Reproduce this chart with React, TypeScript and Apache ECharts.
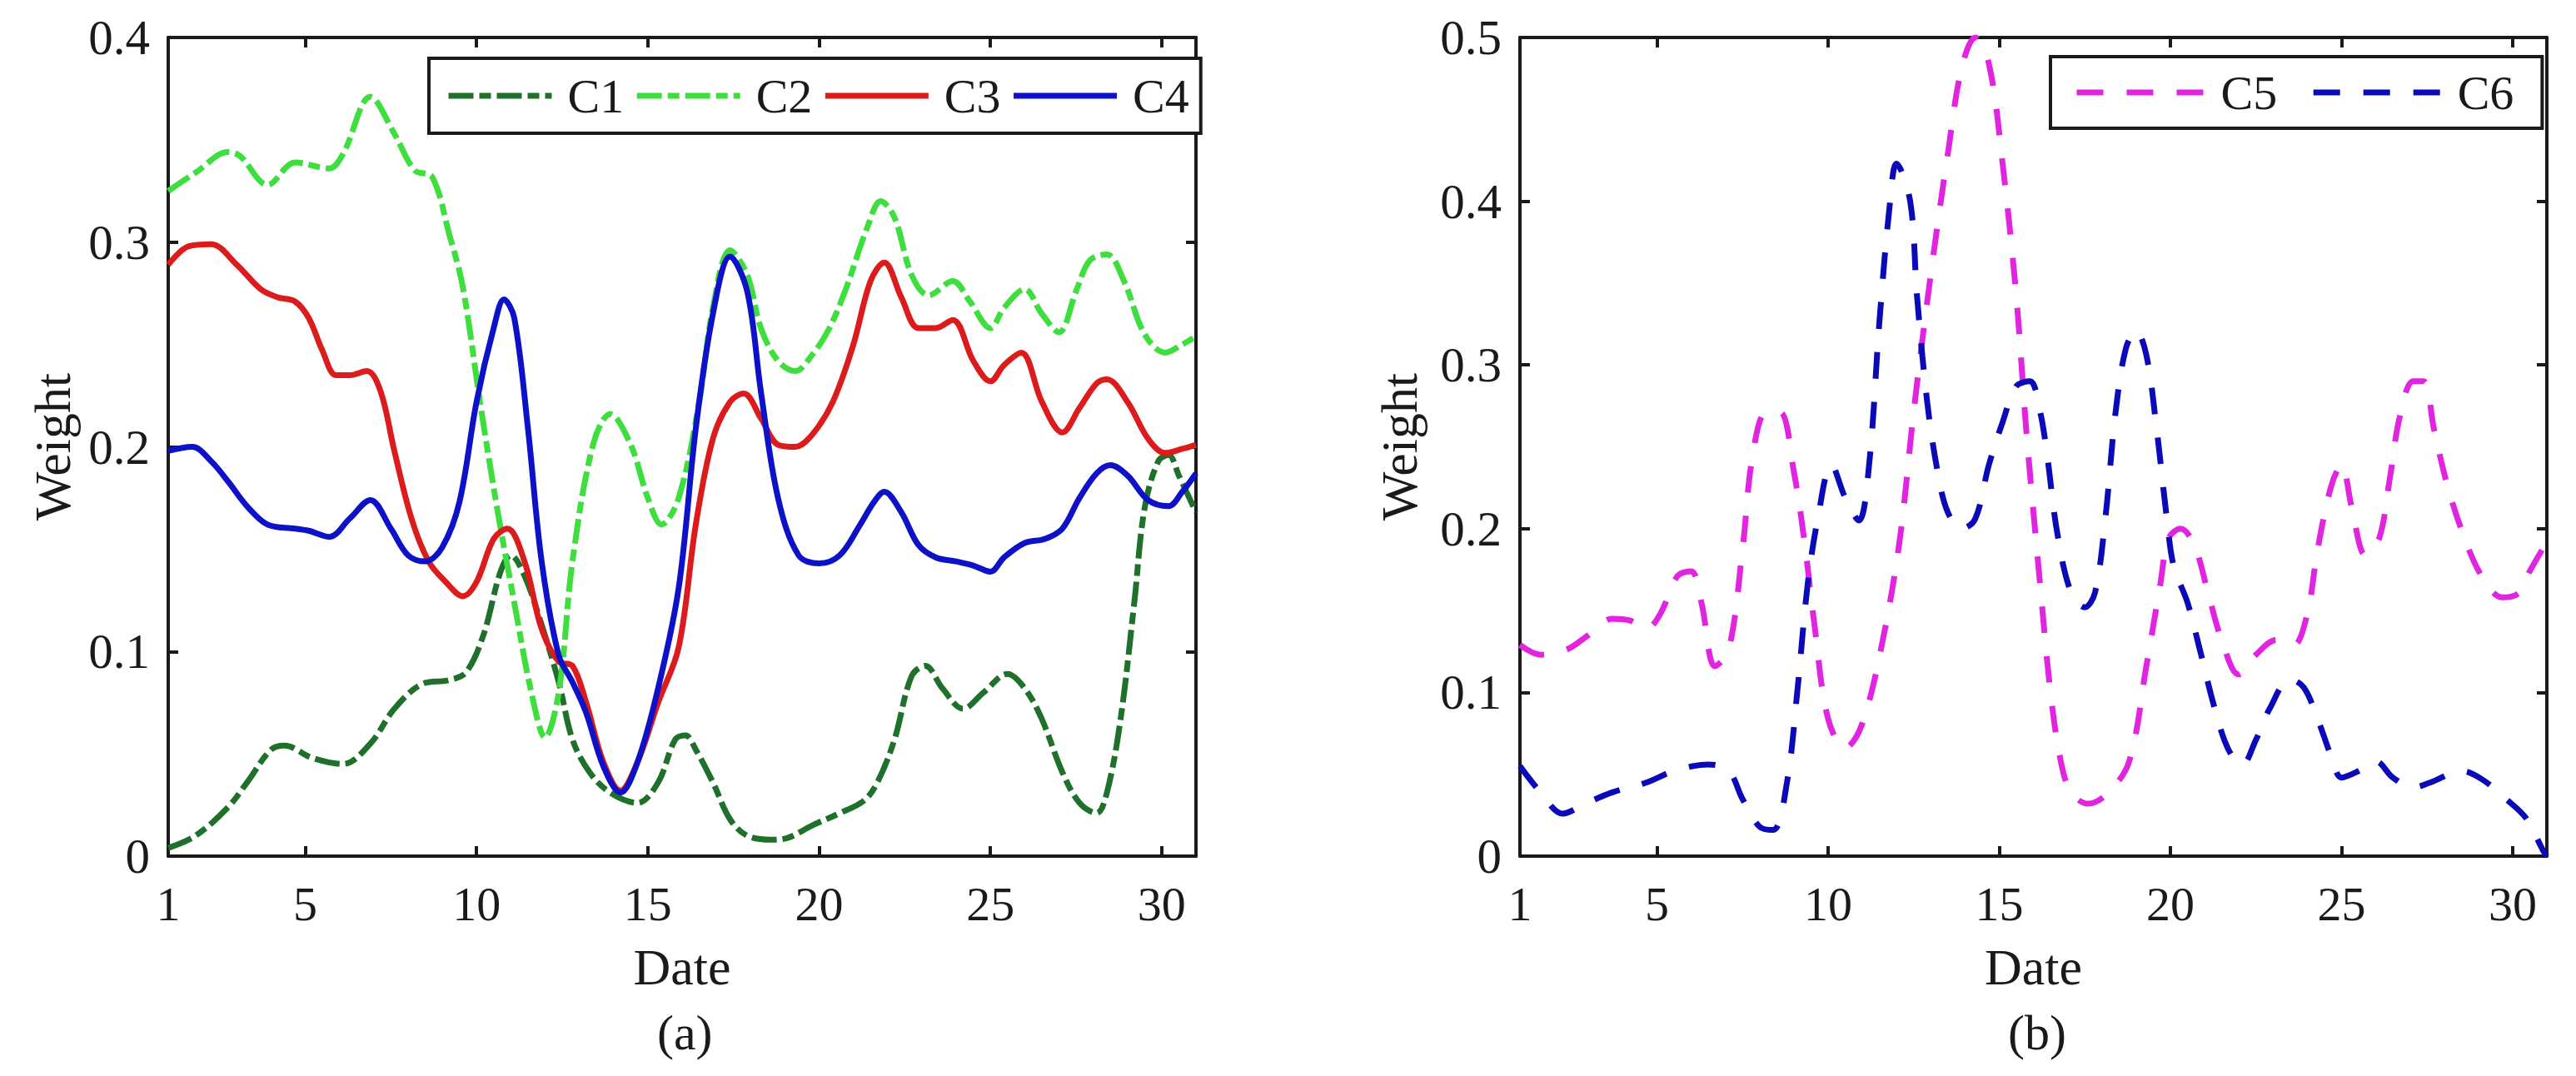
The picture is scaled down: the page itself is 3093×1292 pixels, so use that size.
import React, { useEffect, useRef } from "react";
import * as echarts from "echarts";

// ---- data (date, weight) ----
const X_TICKS = [1, 5, 10, 15, 20, 25, 30];
const Y_TICKS_A = [0, 0.1, 0.2, 0.3, 0.4];
const Y_TICKS_B = [0, 0.1, 0.2, 0.3, 0.4, 0.5];

const C1: [number, number][] = [
  [1, 0.004], [1.8, 0.01], [2.75, 0.024], [3.3, 0.036], [4.0, 0.052], [4.4, 0.054], [5.2, 0.048], [6.1, 0.045],
  [6.9, 0.055], [7.6, 0.072], [8.4, 0.084], [9.2, 0.086], [9.7, 0.09], [10.2, 0.108], [10.7, 0.139], [11.0, 0.147],
  [11.4, 0.137], [11.9, 0.113], [12.4, 0.085], [12.8, 0.057], [13.3, 0.041], [13.9, 0.031], [14.7, 0.026],
  [15.3, 0.036], [15.8, 0.057], [16.1, 0.059], [16.4, 0.052], [16.9, 0.036], [17.4, 0.018], [17.9, 0.01],
  [18.6, 0.008], [19.1, 0.009], [19.8, 0.015], [20.6, 0.021], [21.3, 0.027], [21.7, 0.036], [22.2, 0.057],
  [22.7, 0.088], [23.1, 0.093], [23.6, 0.082], [24.2, 0.072], [24.8, 0.08], [25.5, 0.089], [26.0, 0.082],
  [26.5, 0.067], [27.1, 0.041], [27.6, 0.026], [28.1, 0.021], [28.4, 0.031], [28.8, 0.067], [29.2, 0.124],
  [29.5, 0.17], [29.9, 0.193], [30.2, 0.196], [30.5, 0.186], [31, 0.168],
];
const C2: [number, number][] = [
  [1, 0.325], [1.8, 0.334], [2.75, 0.344], [3.1, 0.342], [3.9, 0.328], [4.7, 0.339], [5.7, 0.336], [6.1, 0.343],
  [6.9, 0.371], [7.6, 0.353], [8.2, 0.335], [8.7, 0.332], [9.2, 0.304], [9.6, 0.278], [10.1, 0.222], [10.6, 0.17],
  [11.1, 0.124], [11.6, 0.08], [12.0, 0.058], [12.4, 0.08], [12.8, 0.144], [13.4, 0.201], [13.9, 0.216],
  [14.5, 0.201], [15, 0.175], [15.4, 0.162], [15.9, 0.175], [16.5, 0.222], [16.9, 0.268], [17.4, 0.296],
  [17.9, 0.284], [18.3, 0.258], [18.8, 0.242], [19.3, 0.237], [19.8, 0.245], [20.3, 0.258], [20.8, 0.278],
  [21.4, 0.307], [21.8, 0.32], [22.2, 0.312], [22.7, 0.284], [23.2, 0.274], [23.9, 0.281], [24.4, 0.271],
  [25.0, 0.258], [25.4, 0.268], [26.0, 0.277], [26.5, 0.265], [27.0, 0.256], [27.5, 0.276], [27.9, 0.291],
  [28.4, 0.294], [28.9, 0.281], [29.5, 0.255], [30.1, 0.246], [30.6, 0.25], [31, 0.254],
];
const C3: [number, number][] = [
  [1, 0.289], [1.6, 0.298], [2.25, 0.299], [3.0, 0.289], [3.7, 0.277], [4.2, 0.273], [4.7, 0.271], [5.1, 0.263],
  [5.5, 0.247], [5.9, 0.235], [6.3, 0.235], [6.8, 0.237], [7.2, 0.227], [7.6, 0.198], [8.1, 0.165], [8.6, 0.144],
  [9.1, 0.134], [9.6, 0.127], [10.0, 0.134], [10.5, 0.155], [10.9, 0.16], [11.4, 0.144], [11.9, 0.111],
  [12.4, 0.095], [12.8, 0.093], [13.2, 0.075], [13.7, 0.046], [14.2, 0.032], [14.7, 0.046], [15.3, 0.075],
  [15.9, 0.102], [16.4, 0.162], [16.9, 0.204], [17.4, 0.222], [17.8, 0.226], [18.3, 0.214], [18.8, 0.201],
  [19.3, 0.2], [19.8, 0.206], [20.4, 0.222], [21.0, 0.25], [21.5, 0.281], [21.9, 0.29], [22.4, 0.273],
  [22.9, 0.258], [23.4, 0.258], [23.9, 0.262], [24.5, 0.242], [25.0, 0.232], [25.4, 0.24], [25.9, 0.246],
  [26.5, 0.222], [27.1, 0.207], [27.6, 0.219], [28.1, 0.231], [28.4, 0.233], [29.0, 0.222], [29.6, 0.204],
  [30.1, 0.197], [30.6, 0.199], [31, 0.201],
];
const C4: [number, number][] = [
  [1, 0.198], [1.7, 0.2], [2.25, 0.193], [2.75, 0.183], [3.3, 0.171], [3.9, 0.162], [4.7, 0.16], [5.1, 0.159],
  [5.7, 0.156], [6.3, 0.165], [6.9, 0.174], [7.5, 0.16], [8.0, 0.147], [8.5, 0.144], [9.0, 0.151], [9.5, 0.173],
  [10.0, 0.222], [10.5, 0.258], [10.8, 0.272], [11.1, 0.263], [11.5, 0.209], [11.9, 0.144], [12.4, 0.098],
  [12.8, 0.085], [13.2, 0.07], [13.7, 0.044], [14.2, 0.031], [14.7, 0.046], [15.3, 0.082], [15.9, 0.131],
  [16.4, 0.209], [16.9, 0.265], [17.4, 0.293], [17.9, 0.276], [18.3, 0.227], [18.8, 0.175], [19.4, 0.147],
  [20.0, 0.143], [20.6, 0.147], [21.2, 0.162], [21.6, 0.173], [21.9, 0.178], [22.4, 0.168], [22.9, 0.152],
  [23.4, 0.146], [24.0, 0.144], [24.5, 0.142], [25.0, 0.139], [25.4, 0.146], [26.0, 0.153], [26.6, 0.155],
  [27.1, 0.16], [27.6, 0.175], [28.1, 0.187], [28.5, 0.191], [29.0, 0.186], [29.6, 0.174], [30.2, 0.171],
  [30.6, 0.178], [31, 0.187],
];
const C5: [number, number][] = [
  [1, 0.129], [1.6, 0.123], [2.35, 0.126], [3.0, 0.135], [3.7, 0.145], [4.2, 0.144], [4.7, 0.139], [5.1, 0.148],
  [5.6, 0.171], [6.0, 0.174], [6.3, 0.155], [6.7, 0.116], [7.1, 0.126], [7.5, 0.187], [7.8, 0.245], [8.2, 0.271],
  [8.6, 0.271], [9.0, 0.235], [9.3, 0.194], [9.6, 0.142], [10.0, 0.084], [10.5, 0.066], [11.0, 0.081],
  [11.6, 0.132], [12.1, 0.194], [12.5, 0.271], [13.0, 0.355], [13.5, 0.429], [13.9, 0.481], [14.3, 0.5],
  [14.7, 0.484], [15.1, 0.423], [15.5, 0.342], [15.8, 0.258], [16.2, 0.165], [16.5, 0.1], [16.8, 0.058],
  [17.1, 0.039], [17.6, 0.032], [18.2, 0.039], [18.8, 0.058], [19.3, 0.116], [19.7, 0.165], [19.95, 0.194],
  [20.3, 0.2], [20.7, 0.19], [21.1, 0.161], [21.5, 0.132], [22.0, 0.111], [22.5, 0.123], [23.1, 0.132],
  [23.6, 0.129], [24.0, 0.148], [24.3, 0.187], [24.7, 0.226], [25.0, 0.239], [25.3, 0.213], [25.7, 0.184],
  [26.1, 0.194], [26.4, 0.229], [26.7, 0.268], [27.1, 0.29], [27.4, 0.29], [27.7, 0.261], [28.1, 0.226],
  [28.6, 0.194], [29.1, 0.171], [29.7, 0.158], [30.2, 0.161], [30.5, 0.174], [31, 0.192],
];
const C6: [number, number][] = [
  [1, 0.055], [1.6, 0.039], [2.25, 0.026], [2.9, 0.032], [3.7, 0.039], [4.7, 0.045], [5.5, 0.052], [6.5, 0.056],
  [7.1, 0.052], [7.5, 0.035], [8.0, 0.018], [8.4, 0.016], [8.8, 0.045], [9.1, 0.1], [9.4, 0.165], [9.7, 0.206],
  [10.1, 0.239], [10.5, 0.219], [10.9, 0.205], [11.2, 0.239], [11.5, 0.326], [11.8, 0.397], [12.0, 0.423],
  [12.4, 0.4], [12.6, 0.342], [12.9, 0.277], [13.2, 0.235], [13.5, 0.21], [13.9, 0.2], [14.3, 0.206],
  [14.7, 0.239], [15.1, 0.265], [15.5, 0.287], [15.9, 0.29], [16.2, 0.271], [16.4, 0.245], [16.7, 0.197],
  [17.1, 0.161], [17.5, 0.152], [17.8, 0.161], [18.1, 0.206], [18.4, 0.271], [18.7, 0.31], [19.0, 0.321],
  [19.3, 0.306], [19.6, 0.261], [19.9, 0.206], [20.1, 0.177], [20.5, 0.155], [20.9, 0.123], [21.3, 0.09],
  [21.7, 0.065], [22.1, 0.056], [22.5, 0.071], [22.9, 0.09], [23.5, 0.108], [23.9, 0.103], [24.3, 0.084],
  [24.7, 0.061], [25.0, 0.048], [25.5, 0.052], [26.0, 0.058], [26.5, 0.048], [27.1, 0.042], [27.6, 0.045],
  [28.5, 0.052], [29.1, 0.047], [29.8, 0.035], [30.4, 0.023], [30.9, 0.003], [31, 0.0],
];

const FONT = "Liberation Serif, Times New Roman, serif";
const INK = "#1a1a1a";
const DASH_DOT = [30, 7, 14, 7];
const DASH = [32, 28];

function xAxis(gridIndex: number, position: string, main: boolean) {
  return {
    type: "value",
    gridIndex,
    position,
    min: 1,
    max: 31,
    axisLine: { show: true, onZero: false, lineStyle: { color: INK, width: 4 } },
    axisTick: { show: true, inside: true, length: 12, lineStyle: { color: INK, width: 4 }, customValues: X_TICKS },
    axisLabel: {
      show: main,
      customValues: X_TICKS,
      margin: 28,
      fontSize: 58,
      fontFamily: FONT,
      color: INK,
    },
    splitLine: { show: false },
    name: main ? "Date" : "",
    nameLocation: "middle",
    nameGap: 102,
    nameTextStyle: { fontSize: 62, fontFamily: FONT, color: INK },
  };
}

function yAxis(gridIndex: number, position: string, main: boolean, max: number, ticks: number[], gap: number) {
  return {
    type: "value",
    gridIndex,
    position,
    min: 0,
    max,
    interval: 0.1,
    axisLine: { show: true, onZero: false, lineStyle: { color: INK, width: 4 } },
    axisTick: { show: true, inside: true, length: 12, lineStyle: { color: INK, width: 4 }, customValues: ticks },
    axisLabel: {
      show: main,
      customValues: ticks,
      margin: 22,
      fontSize: 59,
      fontFamily: FONT,
      color: INK,
      formatter: (v: number) => (Math.abs(v) < 1e-9 ? "0" : v.toFixed(1)),
    },
    splitLine: { show: false },
    name: main ? "Weight" : "",
    nameLocation: "middle",
    nameRotate: 90,
    nameGap: gap,
    nameTextStyle: { fontSize: 62, fontFamily: FONT, color: INK },
  };
}

function line(name: string, data: [number, number][], color: string, type: any, axis: number) {
  return {
    name,
    type: "line",
    xAxisIndex: axis,
    yAxisIndex: axis,
    data,
    smooth: 0.35,
    symbol: "none",
    lineStyle: { color, width: 7, type },
    itemStyle: { color },
  };
}

export default function App() {
  const ref = useRef<HTMLDivElement>(null);
  useEffect(() => {
    if (!ref.current) return;
    const chart = echarts.init(ref.current, undefined, { renderer: "svg" });
    const legendText = { fontSize: 58, fontFamily: FONT, color: INK, lineHeight: 58 };
    chart.setOption({
      animation: false,
      backgroundColor: "#ffffff",
      grid: [
        { left: 202, top: 45, width: 1234, height: 983 },
        { left: 1825, top: 45, width: 1233, height: 983 },
      ],
      xAxis: [xAxis(0, "bottom", true), xAxis(0, "top", false), xAxis(1, "bottom", true), xAxis(1, "top", false)],
      yAxis: [
        yAxis(0, "left", true, 0.4, Y_TICKS_A, 108),
        yAxis(0, "right", false, 0.4, Y_TICKS_A, 108),
        yAxis(1, "left", true, 0.5, Y_TICKS_B, 114),
        yAxis(1, "right", false, 0.5, Y_TICKS_B, 114),
      ],
      legend: [
        {
          data: ["C1", "C2", "C3", "C4"],
          left: 515,
          top: 70,
          orient: "horizontal",
          itemWidth: 124,
          itemHeight: 20,
          itemGap: 12,
          padding: [16, 14, 16, 20],
          borderColor: INK,
          borderWidth: 4,
          backgroundColor: "#ffffff",
          itemStyle: { opacity: 0 },
          lineStyle: { width: 7 },
          textStyle: { ...legendText, padding: [0, 0, 0, 14] },
        },
        {
          data: ["C5", "C6"],
          left: 2462,
          top: 68,
          orient: "horizontal",
          itemWidth: 160,
          itemHeight: 20,
          itemGap: 40,
          padding: [14, 34, 14, 28],
          borderColor: INK,
          borderWidth: 4,
          backgroundColor: "#ffffff",
          itemStyle: { opacity: 0 },
          lineStyle: { width: 7 },
          textStyle: { ...legendText, padding: [0, 0, 0, 8] },
        },
      ],
      graphic: [
        {
          type: "text",
          left: 819 - 30,
          top: 1210,
          style: { text: "(a)", fontSize: 60, fontFamily: FONT, fill: INK },
        },
        {
          type: "text",
          left: 2441 - 30,
          top: 1210,
          style: { text: "(b)", fontSize: 60, fontFamily: FONT, fill: INK },
        },
      ],
      series: [
        line("C1", C1, "#1f702a", DASH_DOT, 0),
        line("C2", C2, "#3ede3e", DASH_DOT, 0),
        line("C3", C3, "#dc1c1c", "solid", 0),
        line("C4", C4, "#0d12c8", "solid", 0),
        line("C5", C5, "#e024e0", DASH, 2),
        line("C6", C6, "#0a0ab8", DASH, 2),
      ],
    });
    return () => chart.dispose();
  }, []);
  return (
    <div
      ref={ref}
      style={{ position: "fixed", left: 0, top: 0, width: 3093, height: 1292, background: "#fff" }}
    />
  );
}
